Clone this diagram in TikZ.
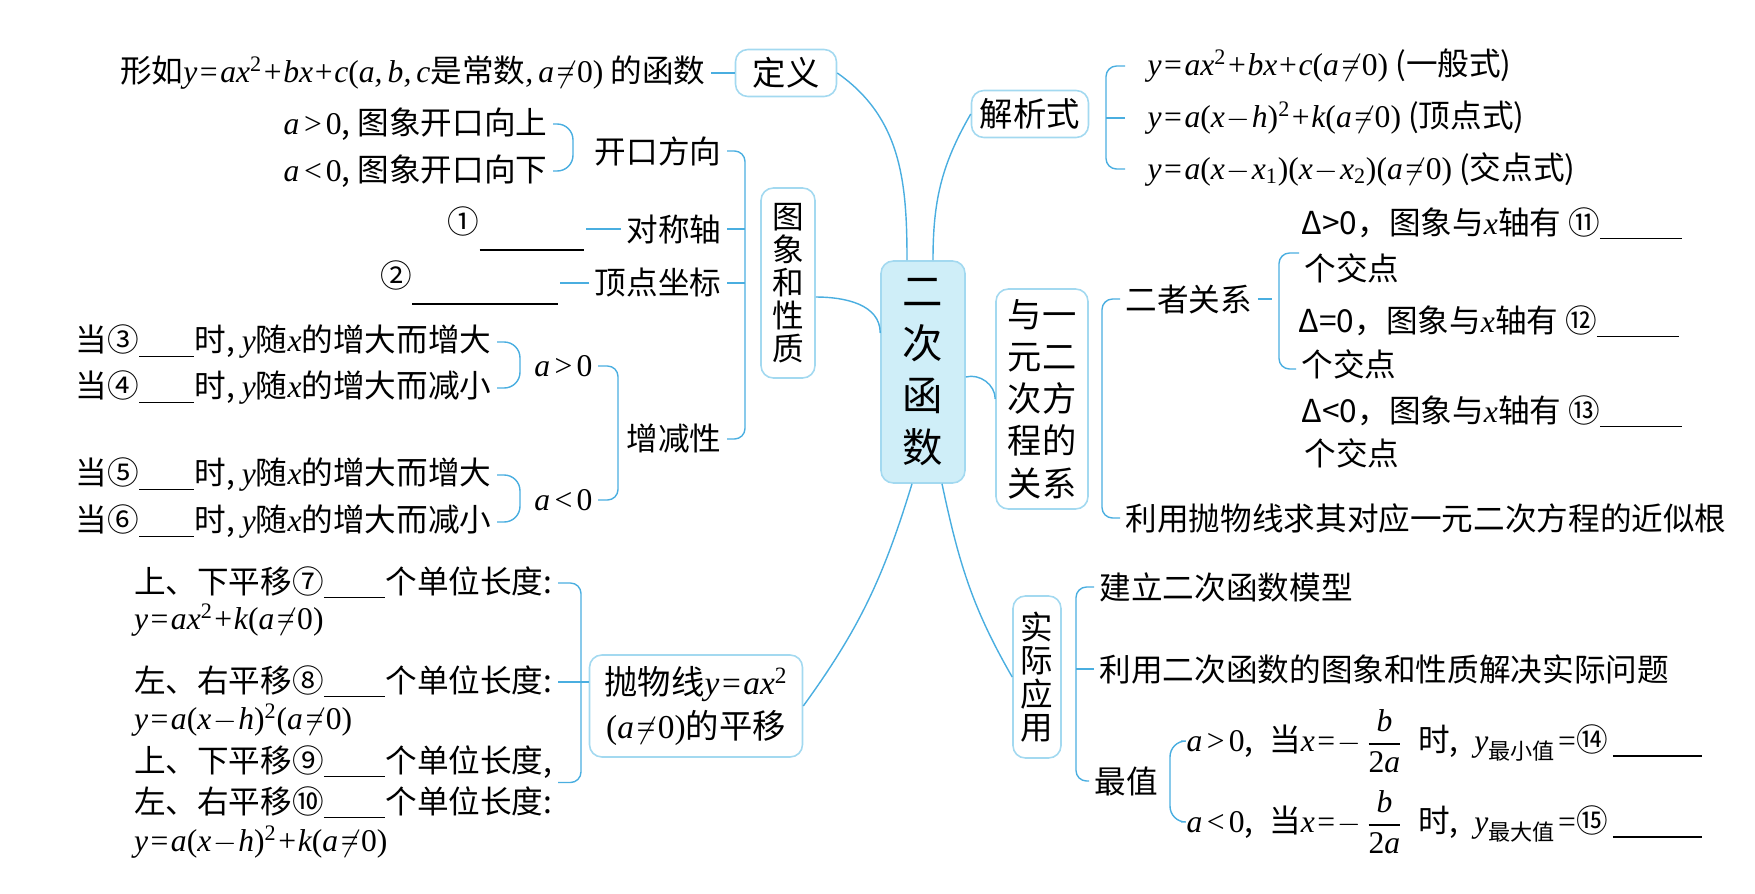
\documentclass[tikz,border=0pt]{standalone}
\usepackage{amsmath}
\usepackage[no-math]{fontspec}
\setmainfont{Noto Sans CJK SC}
\newfontfamily\mathtimes[NFSSFamily=libser]{Liberation Serif}
\DeclareSymbolFont{letters}{TU}{libser}{m}{it}
\DeclareSymbolFont{operators}{TU}{libser}{m}{n}
\mathcode`\,="612C
\usetikzlibrary{positioning, calc}
\definecolor{linkblue}{HTML}{4AAEE0}
\definecolor{boxborder}{HTML}{A3D9F0}
\definecolor{rootfill}{HTML}{CFEEF8}
\newcommand{\fillin}[1]{\underline{\hspace{#1}}}
\newcommand{\tightmath}{\thickmuskip=1.5mu\medmuskip=1mu}

\begin{document}
\begin{tikzpicture}[x=0.02cm, y=-0.02cm,
		every node/.style={font=\fontsize{18}{21}\selectfont\tightmath, inner sep=3pt},
		root/.style={draw=boxborder, fill=rootfill, rounded corners=7pt,
			line width=0.9pt, minimum width=1.68cm, minimum height=4.44cm,
			align=center, font=\fontsize{23}{29.5}\selectfont},
		topic/.style={draw=boxborder, fill=white, rounded corners=7pt,
			line width=0.9pt, align=center, inner sep=0pt},
		link/.style={linkblue, line width=0.8pt},
		br/.style={linkblue, line width=0.8pt, rounded corners=6pt},
		paren/.style={br, rounded corners=9pt},
		leaf/.style={anchor=west},
		leafr/.style={anchor=east},
		]
		\useasboundingbox (0,0) rectangle (1755,893);

		% Root
		\node[root] (fn) at (923,372) {二\\次\\函\\数};

		% Definition
		\node[topic, minimum width=2.02cm, minimum height=0.94cm,
			font=\fontsize{19}{22}\selectfont] (def) at (786,73) {定义};
		\node[leafr] (defl) at (711,73)
		{形如$y=ax^2+bx+c(a,b,c$是常数$,a\neq0)$ 的函数};

		% Analytic forms
		\node[topic, minimum width=2.34cm, minimum height=0.94cm,
			font=\fontsize{19}{22}\selectfont] (jx) at (1030,114) {解析式};
		\node[leaf] (f1) at (1142,66) {$y=ax^2+bx+c(a\neq0)$ (一般式)};
		\node[leaf] (f2) at (1142,118) {$y=a(x-h)^2+k(a\neq0)$ (顶点式)};
		\node[leaf] (f3) at (1142,169) {$y=a(x-x_1)(x-x_2)(a\neq0)$ (交点式)};

		% Graph and properties
		\node[topic, minimum width=1.08cm, minimum height=3.8cm,
			font=\fontsize{18}{18.7}\selectfont] (tx) at (788,283)
		{图\\象\\和\\性\\质};
		\node[leafr] (kk) at (727,151) {开口方向};
		\node[leafr] (k1) at (553,124) {$a>0$, 图象开口向上};
		\node[leafr] (k2) at (553,171) {$a<0$, 图象开口向下};
		\node[leafr] (dc) at (727,229) {对称轴};
		\node[leafr, inner sep=1pt] (b1) at (586,229)
		{\raisebox{0.4em}{①}\fillin{3.3em}};
		\node[leafr] (dd) at (727,283) {顶点坐标};
		\node[leafr, inner sep=1pt] (b2) at (560,283)
		{\raisebox{0.4em}{②}\fillin{4.6em}};
		\node[leafr] (zj) at (727,439) {增减性};
		\node[leafr] (ap) at (598,366) {$a>0$};
		\node[leafr] (an) at (598,500) {$a<0$};
		\node[leafr] (w1) at (497,342) {当③\fillin{1.75em}时, $y$随$x$的增大而增大};
		\node[leafr] (w2) at (497,388) {当④\fillin{1.75em}时, $y$随$x$的增大而减小};
		\node[leafr] (w3) at (497,475) {当⑤\fillin{1.75em}时, $y$随$x$的增大而增大};
		\node[leafr] (w4) at (497,522) {当⑥\fillin{1.75em}时, $y$随$x$的增大而减小};

		% Translation
		\node[topic, minimum width=4.26cm, minimum height=2.04cm,
			font=\fontsize{19}{25}\selectfont\tightmath] (py) at (696,706)
		{抛物线$y=ax^2$\\$(a\neq0)$的平移};
		\node[leafr] (t1) at (558,583) {上、下平移⑦\fillin{1.95em}个单位长度:};
		\node[leaf] (t1b) at ([yshift=-0.74cm]t1.west) {$y=ax^2+k(a\neq0)$};
		\node[leafr] (t2) at (558,682) {左、右平移⑧\fillin{1.95em}个单位长度:};
		\node[leaf] (t2b) at ([yshift=-0.76cm]t2.west) {$y=a(x-h)^2(a\neq0)$};
		\node[leafr] (t3) at (558,762) {上、下平移⑨\fillin{1.95em}个单位长度,};
		\node[leafr] (t3b) at ([yshift=-0.82cm]t3.east) {左、右平移⑩\fillin{1.95em}个单位长度:};
		\node[leaf] (t3c) at ([yshift=-1.6cm]t3.west) {$y=a(x-h)^2+k(a\neq0)$};

		% Relation with quadratic equations
		\node[topic, minimum width=1.84cm, minimum height=4.4cm,
			font=\fontsize{19.5}{24}\selectfont] (yy) at (1042,399)
		{与一\\元二\\次方\\程的\\关系};
		\node[leaf] (ez) at (1120,299) {二者关系};
		\node[leaf] (d1) at (1296,224) {Δ>0，图象与$x$轴有 ⑪\fillin{2.6em}};
		\node[leaf] (d1b) at (1299,268) {个交点};
		\node[leaf] (d2) at (1293,322) {Δ=0，图象与$x$轴有 ⑫\fillin{2.6em}};
		\node[leaf] (d2b) at (1296,364) {个交点};
		\node[leaf] (d3) at (1296,412) {Δ<0，图象与$x$轴有 ⑬\fillin{2.6em}};
		\node[leaf] (d3b) at (1299,453) {个交点};
		\node[leaf] (ly) at (1120,518) {利用抛物线求其对应一元二次方程的近似根};

		% Applications
		\node[topic, minimum width=0.96cm, minimum height=3.24cm,
			font=\fontsize{18.5}{19}\selectfont] (sj) at (1037,677)
		{实\\际\\应\\用};
		\node[leaf] (m1) at (1094,587) {建立二次函数模型};
		\node[leaf] (m2) at (1094,669) {利用二次函数的图象和性质解决实际问题};
		\node[leaf] (zz) at (1089,781) {最值};
		\node[leaf] (v1) at (1181,741)
		{$a>0$,\enskip 当$x = -\,\dfrac{b}{2a}$\enskip 时,\enskip $y_{\text{最小值}}=$⑭\,\fillin{2.8em}};
		\node[leaf] (v2) at (1181,822)
		{$a<0$,\enskip 当$x = -\,\dfrac{b}{2a}$\enskip 时,\enskip $y_{\text{最大值}}=$⑮\,\fillin{2.8em}};

		% Links from the root
		\draw[link] (def.east) to[out=-35, in=90] ([xshift=-0.32cm]fn.north);
		\draw[link] ([xshift=0.2cm]fn.north) to[out=90, in=240] (jx.west);
		\draw[link] ([yshift=-0.28cm]tx.east) to[out=0, in=90] ([yshift=0.78cm]fn.west);
		\draw[link] ([yshift=-0.1cm]fn.east) to[out=15, in=90] (yy.west);
		\draw[link] ([xshift=-0.22cm]fn.south) to[out=-107, in=54] (py.east);
		\draw[link] ([xshift=0.38cm]fn.south) to[out=-78, in=120] (sj.west);

		% Short links
		\draw[link] (defl.east) -- (def.west);
		\draw[link] (dc.west) -- (dc.west -| b1.east);
		\draw[link] (dd.west) -- (dd.west -| b2.east);
		\draw[link] (t2.east) -- (t2.east -| py.west);

		% Brackets
		\draw[br] ([xshift=-0.34cm]f1.west) -- ++(-0.38cm,0) |- ([xshift=-0.34cm]f3.west);
		\draw[br] ([xshift=-0.34cm]f2.west) -- ++(-0.38cm,0);
		\draw[br] (kk.east) -- ++(0.36cm,0) |- (zj.east);
		\foreach \c in {dc, dd} {
			\draw[br] (\c.east) -- ++(0.36cm,0);
		}
		\draw[paren] (k1.east) -- ++(0.4cm,0) |- (k2.east);
		\draw[br] (ap.east) -- ++(0.4cm,0) |- (an.east);
		\foreach \a/\b in {w1/w2, w3/w4} {
			\draw[paren] (\a.east) -- ++(0.46cm,0) |- (\b.east);
		}
		\draw[br] (t1.east) -- ++(0.46cm,0) |- ($(t3.east)!0.5!(t3b.east)$);
		\draw[br] (ez.west) -- ++(-0.36cm,0) |- (ly.west);
		\draw[br] ([yshift=0.3cm]d1b.west) -- ++(-0.4cm,0) |- ([yshift=-0.1cm]d2b.west);
		\draw[br] (ez.east) -- ++(0.28cm,0);
		\draw[br] (m1.west) -- ++(-0.36cm,0) |- (zz.west);
		\draw[br] (m2.west) -- ++(-0.36cm,0);
		\draw[paren] (v1.west) -- ++(-0.22cm,0) |- (v2.west);
	\end{tikzpicture}
\end{document}
